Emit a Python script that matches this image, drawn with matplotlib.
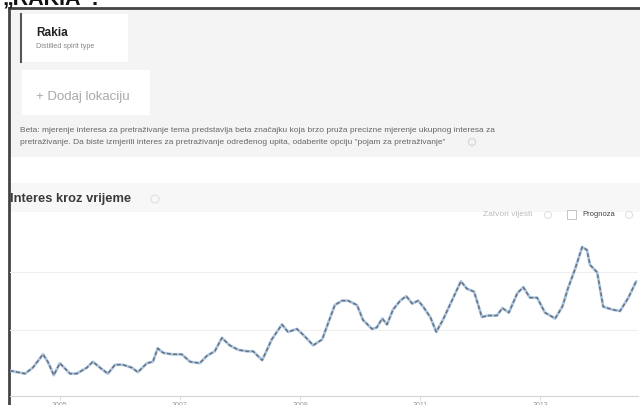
import matplotlib
matplotlib.use("Agg")
import matplotlib.pyplot as plt
from matplotlib.patches import Rectangle, Circle

plt.rcParams['font.family'] = ['Liberation Sans', 'DejaVu Sans']

# ------------------------------
# data (interest 0-100 over time)
# ------------------------------
years = [2004.17, 2004.42, 2004.55, 2004.72, 2004.80, 2004.90, 2005.00, 2005.17,
         2005.28, 2005.45, 2005.55, 2005.67, 2005.80, 2005.92, 2006.05, 2006.20,
         2006.30, 2006.45, 2006.55, 2006.63, 2006.72, 2006.87, 2007.03, 2007.17,
         2007.33, 2007.45, 2007.58, 2007.70, 2007.83, 2007.97, 2008.12, 2008.22,
         2008.37, 2008.53, 2008.70, 2008.80, 2008.95, 2009.08, 2009.22, 2009.37,
         2009.47, 2009.58, 2009.70, 2009.80, 2009.95, 2010.05, 2010.20, 2010.28,
         2010.37, 2010.45, 2010.55, 2010.67, 2010.77, 2010.87, 2010.97, 2011.05,
         2011.17, 2011.27, 2011.38, 2011.53, 2011.68, 2011.78, 2011.90, 2012.03,
         2012.13, 2012.28, 2012.37, 2012.48, 2012.62, 2012.72, 2012.83, 2012.95,
         2013.08, 2013.25, 2013.37, 2013.47, 2013.58, 2013.70, 2013.78, 2013.83,
         2013.95, 2014.05, 2014.20, 2014.33, 2014.47, 2014.60]
interest = [17, 15, 19, 28, 23, 14, 22, 15,
            15, 19, 23, 19, 15, 21, 21, 19,
            16, 22, 23, 32, 29, 28, 28, 23,
            22, 27, 30, 39, 34, 31, 30, 30,
            24, 38, 48, 43, 45, 40, 34, 38,
            49, 61, 64, 64, 61, 51, 45, 46,
            52, 48, 58, 64, 67, 62, 64, 60,
            53, 43, 51, 64, 77, 72, 70, 53,
            54, 54, 59, 56, 69, 73, 66, 66,
            56, 52, 60, 73, 85, 100, 98, 88,
            83, 60, 58, 57, 66, 77]
tick_years = [2005, 2007, 2009, 2011, 2013]
grid_levels = [44, 83]

title_text = "\u201eRAKIA\u201c:"
term = "Rakia"
term_sub = "Distilled spirit type"
add_loc = "+ Dodaj lokaciju"
note_1 = ("Beta: mjerenje interesa za pretra\u017eivanje tema predstavlja beta zna\u010dajku koja brzo pru\u017ea "
          "precizne mjerenje ukupnog interesa za")
note_2 = ("pretra\u017eivanje. Da biste izmjerili interes za pretra\u017eivanje odre\u0111enog upita, "
          "odaberite opciju \"pojam za pretra\u017eivanje\"")
heading = "Interes kroz vrijeme"
news_lbl = "Zatvori vijesti"
forecast_lbl = "Prognoza"

# ------------------------------
# page (pixel coordinates)
# ------------------------------
fig = plt.figure(figsize=(6.4, 4.05), dpi=100)
page = fig.add_axes([0, 0, 1, 1])
page.set_xlim(0, 640)
page.set_ylim(405, 0)
page.axis('off')

page.text(2, -1, title_text, fontsize=15.5, fontweight='bold', va='center', ha='left', color='#111')

# grey header panel
page.add_patch(Rectangle((9, 9), 631, 148, facecolor='#f4f4f4', edgecolor='none'))
page.add_patch(Rectangle((22, 14), 106, 48, facecolor='white', edgecolor='none'))
page.plot([21, 21], [14, 62], color='#555', lw=1.5)
page.text(36, 33, term, fontsize=8.5, fontweight='bold', color='#222', va='center')
page.text(36, 46, term_sub, fontsize=5.2, color='#888', va='center')
page.add_patch(Rectangle((22, 70), 128, 45, facecolor='white', edgecolor='none'))
page.text(36, 97, add_loc, fontsize=9.5, color='#aaa', va='center')
page.text(20, 130, note_1, fontsize=6, color='#666', va='center')
page.text(20, 142, note_2, fontsize=6, color='#666', va='center')
page.add_patch(Circle((472, 142), 3.5, facecolor='none', edgecolor='#ccc', lw=0.6))

# heading band
page.add_patch(Rectangle((9, 183), 631, 29, facecolor='#f7f7f7', edgecolor='none'))
page.text(10, 199, heading, fontsize=9.3, fontweight='bold', color='#3a3a3a', va='center')
page.add_patch(Circle((155, 199), 4, facecolor='none', edgecolor='#ddd', lw=0.7))
page.text(483, 215, news_lbl, fontsize=6, color='#bbb', va='center')
page.add_patch(Circle((548, 215), 3.5, facecolor='none', edgecolor='#ddd', lw=0.7))
page.add_patch(Rectangle((567, 210), 9, 9, facecolor='white', edgecolor='#bbb', lw=0.6))
page.text(582, 215, forecast_lbl, fontsize=5.5, color='#444', va='center')
page.add_patch(Circle((629, 215), 3.5, facecolor='none', edgecolor='#ddd', lw=0.7))

# frame
page.plot([9, 9], [8, 405], color='#444', lw=2)
page.plot([9, 640], [8, 8], color='#444', lw=2)

# ------------------------------
# chart
# ------------------------------
ax = fig.add_axes([10 / 640, 9 / 405, 628 / 640, 184 / 405])
ax.set_facecolor('none')
ax.set_xlim(2004.17, 2014.63)
ax.set_ylim(0, 123.5)
for g in grid_levels:
    ax.axhline(g, color='#efefef', lw=0.8, zorder=0)
ax.plot(years, interest, color='#a9c7e6', lw=2.0, solid_capstyle='round')
ax.plot(years, interest, color='#6d7178', lw=1.1, dashes=(2.5, 1.5))
for s in ['top', 'right', 'left']:
    ax.spines[s].set_visible(False)
ax.spines['bottom'].set_color('#d5d5d5')
ax.set_yticks([])
ax.set_xticks(tick_years)
ax.set_xticklabels([str(y) for y in tick_years], fontsize=5, color='#999')
ax.tick_params(axis='x', length=3, color='#e0e0e0', pad=1)

fig.savefig('out.png', dpi=100)
